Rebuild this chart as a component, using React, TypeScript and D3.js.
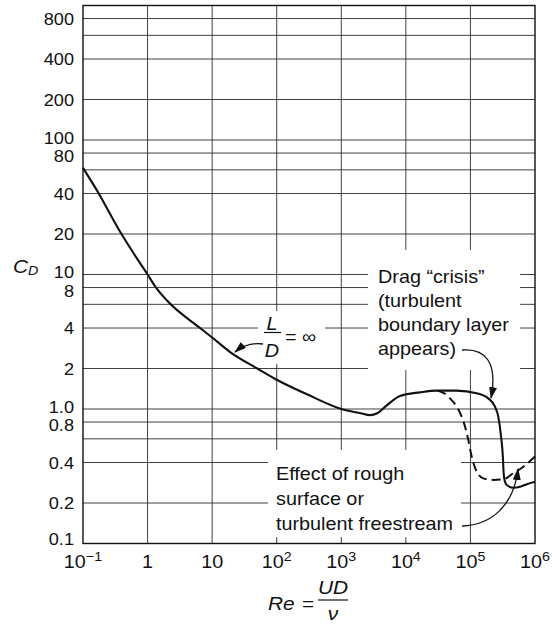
import React from "react";
import * as d3 from "d3";

// Smooth circular cylinder, L/D = infinity
const solidRe = [0.1, 0.17, 0.36, 0.6, 1, 1.3, 2, 6.5, 10, 19, 50, 100, 300, 1000, 2000, 2800, 3600, 5000, 8100, 16500, 30000, 61000, 125000, 189000, 240000, 270000, 298000, 318000, 326000, 338000, 365000, 461000, 586000, 745000, 1000000];
const solidCd = [62, 41, 21.5, 14.5, 10, 8.2, 6.4, 4.0, 3.4, 2.65, 2.0, 1.65, 1.28, 1.0, 0.93, 0.9, 0.93, 1.06, 1.25, 1.33, 1.37, 1.37, 1.31, 1.2, 1.04, 0.877, 0.624, 0.44, 0.34, 0.295, 0.272, 0.26, 0.264, 0.276, 0.288];

// Rough surface / turbulent freestream
const dashRe = [31000, 40000, 48300, 61400, 73300, 82500, 92700, 104700, 125000, 158000, 226000, 323000, 461000, 659000, 1000000];
const dashCd = [1.37, 1.3, 1.2, 1.04, 0.878, 0.74, 0.589, 0.442, 0.342, 0.305, 0.297, 0.3, 0.333, 0.372, 0.443];

// Axes
const xGrid = [1, 10, 100, 1e3, 1e4, 1e5];
const xTicks = [0.1, 1, 10, 100, 1e3, 1e4, 1e5, 1e6];
const xTickBase = ["10", "1", "10", "10", "10", "10", "10", "10"];
const xTickExp = ["\u22121", "", "", "2", "3", "4", "5", "6"];
const yGrid = [0.2, 0.4, 0.6, 0.8, 1, 2, 4, 6, 8, 10, 20, 40, 60, 80, 100, 200, 400, 600, 800];
const yTicks = [0.1, 0.2, 0.4, 0.8, 1, 2, 4, 8, 10, 20, 40, 80, 100, 200, 400, 800];
const yTickLabels = ["0.1", "0.2", "0.4", "0.8", "1.0", "2", "4", "8", "10", "20", "40", "80", "100", "200", "400", "800"];

const W = 552;
const H = 633;
const M = { left: 83, right: 535, top: 5.5, bottom: 543.5 };
const FONT = "'Liberation Sans', Arial, Helvetica, sans-serif";
const SX = 1.1;

type LabelProps = {
  x: number;
  y: number;
  anchor?: "start" | "middle" | "end";
  size?: number;
  italic?: boolean;
  children: React.ReactNode;
};

function Label({ x, y, anchor = "start", size = 18, italic = false, children }: LabelProps) {
  return (
    <text
      transform={`translate(${x},${y}) scale(${SX},1)`}
      textAnchor={anchor}
      fontSize={size}
      fontStyle={italic ? "italic" : "normal"}
      fontFamily={FONT}
      fill="#111"
    >
      {children}
    </text>
  );
}

// tick labels that sit close together are pushed apart a little
function yLabelShift(v: number) {
  if (v === 0.1) return -5;
  if (v === 1 || v === 10 || v === 100) return -2.5;
  if (v === 0.8 || v === 8 || v === 80) return 3;
  return 0;
}

export default function App() {
  const x = d3.scaleLog().domain([0.1, 1e6]).range([M.left, M.right]);
  const y = d3.scaleLog().domain([0.1, 1000]).range([M.bottom, M.top]);

  const line = d3
    .line<[number, number]>()
    .x((d) => x(d[0]))
    .y((d) => y(d[1]))
    .curve(d3.curveMonotoneX);

  const solid = line(solidRe.map((r, i) => [r, solidCd[i]] as [number, number])) || "";
  const dashed = line(dashRe.map((r, i) => [r, dashCd[i]] as [number, number])) || "";

  return (
    <svg
      width={W}
      height={H}
      viewBox={`0 0 ${W} ${H}`}
      style={{ position: "absolute", left: 0, top: 0, background: "#fff" }}
    >
      <defs>
        <marker
          id="head"
          viewBox="0 0 12 8"
          refX="11"
          refY="4"
          markerWidth="12"
          markerHeight="8"
          markerUnits="userSpaceOnUse"
          orient="auto"
        >
          <path d="M0,0 L12,4 L0,8 z" fill="#111" />
        </marker>
      </defs>
      <rect x={0} y={0} width={W} height={H} fill="#fff" />

      {/* grid */}
      <g stroke="#2a2a2a" strokeWidth={0.9}>
        {yGrid.map((v) => (
          <line key={"h" + v} x1={M.left} x2={M.right} y1={y(v)} y2={y(v)} />
        ))}
        {xGrid.map((v) => (
          <line key={"v" + v} x1={x(v)} x2={x(v)} y1={M.top} y2={M.bottom} />
        ))}
      </g>

      {/* clear areas behind the annotations */}
      <g fill="#fff">
        <rect x={368} y={250} width={152} height={120} />
        <rect x={258} y={311} width={67} height={53} />
        <rect x={268} y={450} width={193} height={87} />
      </g>

      {/* frame */}
      <rect
        x={M.left}
        y={M.top}
        width={M.right - M.left}
        height={M.bottom - M.top}
        fill="none"
        stroke="#111"
        strokeWidth={1.4}
      />

      {/* curves */}
      <path d={solid} fill="none" stroke="#111" strokeWidth={2.1} />
      <path d={dashed} fill="none" stroke="#111" strokeWidth={2} strokeDasharray="9,5" />

      {/* y tick labels */}
      {yTicks.map((v, i) => (
        <Label key={"yl" + v} x={74} y={y(v) + 6 + yLabelShift(v)} anchor="end" size={16.5}>
          {yTickLabels[i]}
        </Label>
      ))}

      {/* x tick labels */}
      {xTicks.map((v, i) => (
        <Label key={"xl" + v} x={x(v)} y={568} anchor="middle">
          {xTickBase[i]}
          {xTickExp[i] && (
            <tspan fontSize={13} dy={-7}>
              {xTickExp[i]}
            </tspan>
          )}
        </Label>
      ))}

      {/* y axis title */}
      <Label x={13} y={273} italic size={19}>
        C
        <tspan fontSize={13} dy={2}>
          D
        </tspan>
      </Label>

      {/* x axis title */}
      <Label x={268} y={610} italic size={19}>
        Re
      </Label>
      <Label x={302} y={610} size={19}>
        =
      </Label>
      <Label x={333} y={594} italic size={19} anchor="middle">
        UD
      </Label>
      <line x1={318} x2={348} y1={600} y2={600} stroke="#111" strokeWidth={1.2} />
      <Label x={333} y={620} italic size={19} anchor="middle">
        ν
      </Label>

      {/* L/D label */}
      <Label x={272} y={330} italic anchor="middle">
        L
      </Label>
      <line x1={264} x2={281} y1={332.5} y2={332.5} stroke="#111" strokeWidth={1.2} />
      <Label x={272} y={357} italic anchor="middle">
        D
      </Label>
      <Label x={285} y={343}>
        = ∞
      </Label>

      {/* drag crisis note */}
      <Label x={378} y={283}>Drag “crisis”</Label>
      <Label x={378} y={307}>(turbulent</Label>
      <Label x={378} y={331}>boundary layer</Label>
      <Label x={378} y={355}>appears)</Label>

      {/* rough surface note */}
      <Label x={276} y={480}>Effect of rough</Label>
      <Label x={276} y={505}>surface or</Label>
      <Label x={276} y={530}>turbulent freestream</Label>

      {/* arrows */}
      <g fill="none" stroke="#111" strokeWidth={1.3} markerEnd="url(#head)">
        <path d="M263,344 Q247,342 235,352" />
        <path d="M462,350 C485,348 498,362 491,398" />
        <path d="M462,526 C492,525 514,505 518,469" />
      </g>
    </svg>
  );
}
